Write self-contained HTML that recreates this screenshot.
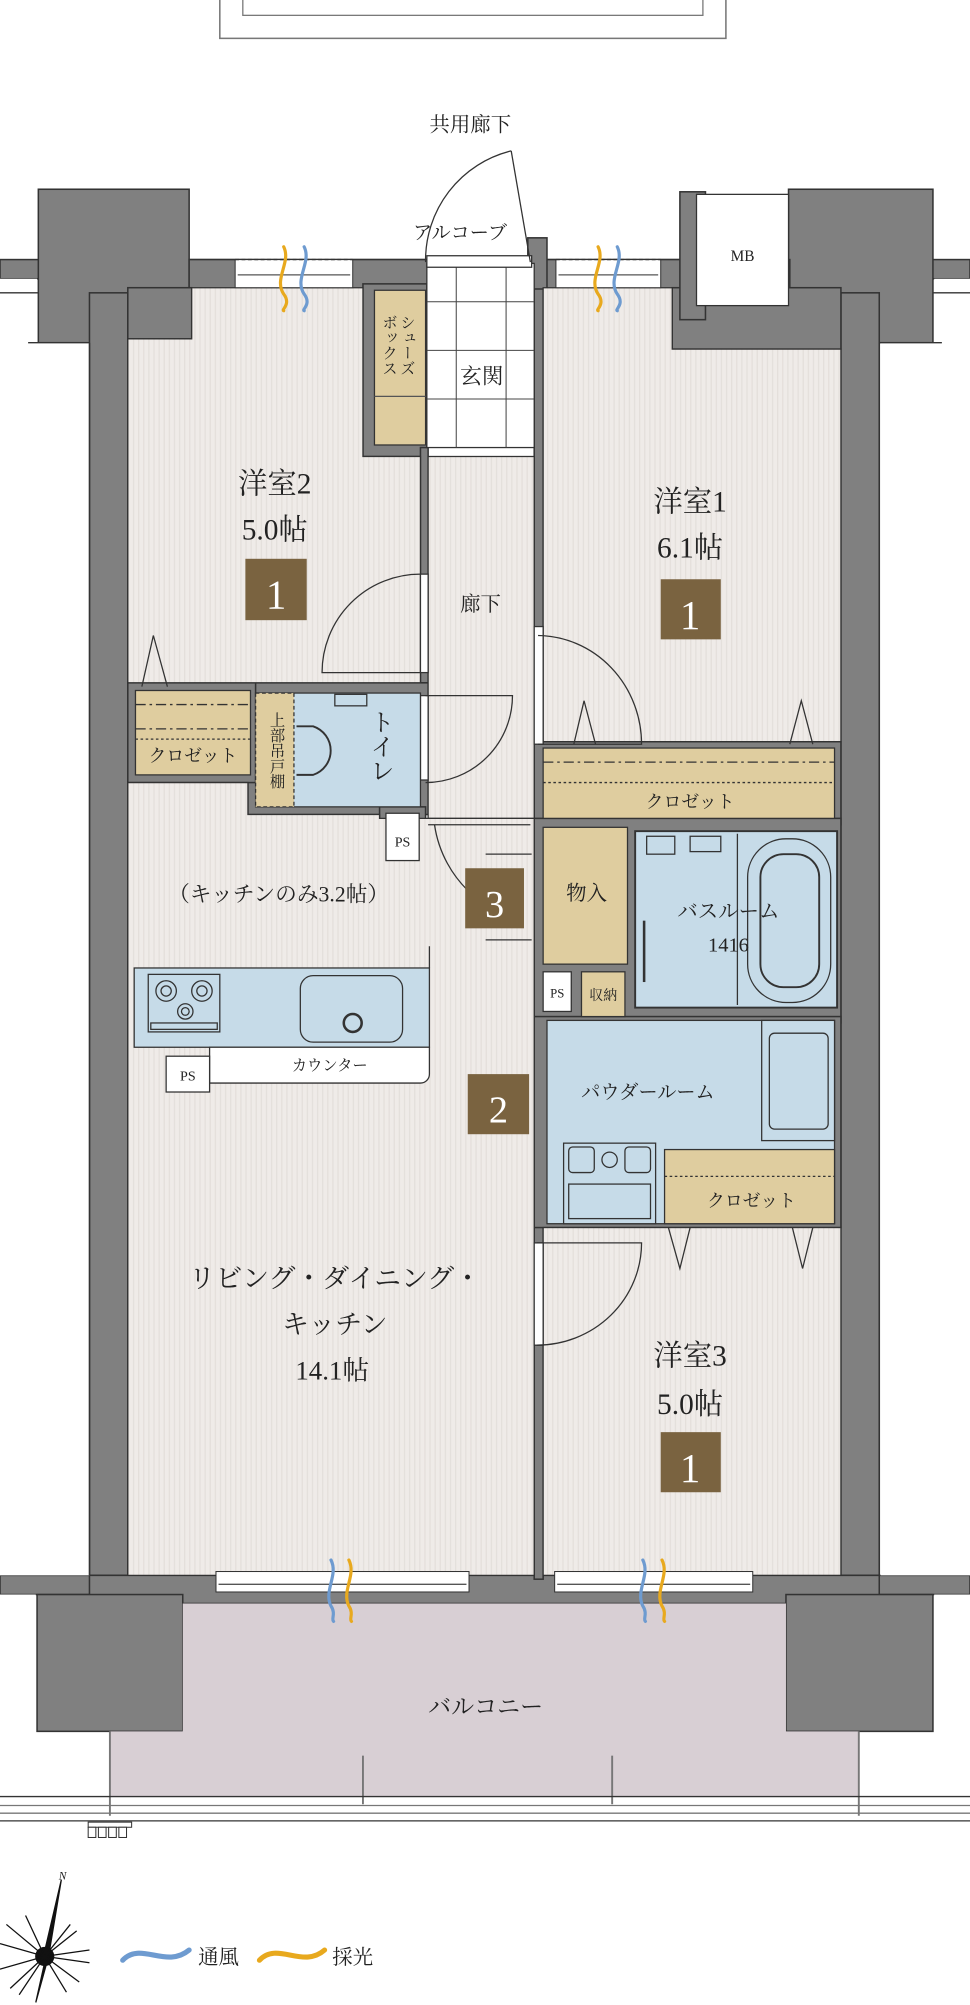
<!DOCTYPE html>
<html><head><meta charset="utf-8">
<style>
html,body{margin:0;padding:0;background:#fff;}
svg{display:block;}
text{font-family:"Liberation Serif","Noto Serif CJK SC","Noto Sans CJK JP",serif;fill:#222;}
</style></head>
<body>
<svg width="970" height="2005" viewBox="0 0 759 1568" preserveAspectRatio="none" xmlns="http://www.w3.org/2000/svg">
<defs>
<pattern id="fl" width="4" height="10" patternUnits="userSpaceOnUse">
<rect width="4" height="10" fill="#efebe8"/><rect width="1" height="10" fill="#e4dfdb"/>
</pattern>
</defs>
<!-- top element -->
<rect x="172" y="-2" width="396" height="32" fill="#fff" stroke="#777" stroke-width="1.2"/>
<rect x="190" y="-2" width="360" height="14" fill="#fff" stroke="#777" stroke-width="1"/>
<text x="368" y="103" font-size="16" text-anchor="middle">共用廊下</text>

<!-- walls -->
<g fill="#808080" stroke="#333" stroke-width="1.2">
<rect x="0" y="203" width="759" height="15"/>
<rect x="30" y="148" width="118" height="120"/>
<rect x="617" y="148" width="113" height="120"/>
<rect x="148" y="203" width="470" height="26"/>
<rect x="70" y="229" width="30" height="1025"/>
<rect x="658" y="229" width="30" height="1025"/>
<rect x="100" y="225" width="50" height="40"/>
<rect x="526" y="225" width="132" height="48"/>
<rect x="532" y="150" width="20" height="100"/>
<rect x="0" y="1232" width="759" height="15"/>
<rect x="70" y="1232" width="618" height="22"/>
<rect x="29" y="1247" width="114" height="107"/>
<rect x="615" y="1247" width="115" height="107"/>
<rect x="284" y="222" width="50" height="135"/>
<rect x="329" y="350" width="6" height="190"/>
<rect x="418" y="205" width="7" height="1030"/>
<rect x="413" y="186" width="15" height="40"/>
<rect x="100" y="534" width="235" height="8"/>
<rect x="194" y="534" width="141" height="103"/>
<rect x="100" y="534" width="100" height="78"/>
<rect x="297" y="631" width="36" height="47"/>
<rect x="418" y="580" width="240" height="65"/>
<rect x="418" y="640" width="240" height="160"/>
<rect x="418" y="795" width="240" height="165"/>
<rect x="100" y="752" width="65" height="75"/>
<rect x="125" y="820" width="45" height="38"/>
</g>
<rect x="0" y="218" width="29" height="50" fill="#fff"/>
<rect x="731" y="218" width="28" height="50" fill="#fff"/>
<rect x="0" y="1247" width="28" height="120" fill="#fff"/>
<rect x="731" y="1247" width="28" height="120" fill="#fff"/>
<rect x="0" y="268" width="70" height="964" fill="#fff"/>
<rect x="689" y="268" width="70" height="964" fill="#fff"/>
<line x1="70" y1="268" x2="70" y2="1232" stroke="#333" stroke-width="1.2"/>
<line x1="688" y1="268" x2="688" y2="1232" stroke="#333" stroke-width="1.2"/>
<line x1="22" y1="268" x2="70" y2="268" stroke="#333"/>
<line x1="688" y1="268" x2="737" y2="268" stroke="#333"/>
<line x1="0" y1="229" x2="30" y2="229" stroke="#333"/>
<line x1="730" y1="229" x2="759" y2="229" stroke="#333"/>

<!-- MB -->
<rect x="545" y="152" width="72" height="87" fill="#fff" stroke="#333"/>
<text x="581" y="204" font-size="12" text-anchor="middle">MB</text>

<!-- floors -->
<g fill="url(#fl)" stroke="#333" stroke-width="1">
<path d="M150 225 H284 V357 H329 V534 H100 V265 H150 Z"/>
<path d="M425 225 H526 V273 H658 V580 H425 Z"/>
<rect x="335" y="357" width="83" height="283"/>
<path d="M100 612 H194 V637 H297 V640 H418 V1232 H100 Z"/>
<rect x="425" y="960" width="233" height="272"/>
</g>

<!-- entrance -->
<rect x="334" y="206" width="84" height="144" fill="#fff" stroke="#333"/>
<g stroke="#444" stroke-width="0.8">
<line x1="357" y1="206" x2="357" y2="350"/><line x1="396" y1="206" x2="396" y2="350"/>
<line x1="334" y1="236" x2="418" y2="236"/><line x1="334" y1="274" x2="418" y2="274"/><line x1="334" y1="312" x2="418" y2="312"/>
</g>
<rect x="334" y="200" width="82" height="9" fill="#fff" stroke="#333"/>
<line x1="415" y1="205" x2="400" y2="118" stroke="#333"/>
<path d="M400 118 A88 88 0 0 0 333 205" fill="none" stroke="#333"/>
<text x="360" y="187" font-size="15" text-anchor="middle">アルコーブ</text>
<text x="377" y="300" font-size="17" text-anchor="middle">玄関</text>

<!-- shoe box -->
<rect x="293" y="227" width="40" height="121" fill="#dfcd9f" stroke="#333"/>
<line x1="293" y1="310" x2="333" y2="310" stroke="#555"/>
<text font-size="12" x="318" y="270" writing-mode="tb" text-anchor="middle">シューズ</text>
<text font-size="12" x="304" y="270" writing-mode="tb" text-anchor="middle">ボックス</text>

<!-- windows top -->
<g fill="#fff" stroke="#333" stroke-width="0.8">
<rect x="184" y="203" width="92" height="22"/>
<rect x="435" y="203" width="82" height="22"/>
</g>
<line x1="184" y1="203" x2="276" y2="203" stroke="#333" stroke-dasharray="3,2"/>
<line x1="435" y1="203" x2="517" y2="203" stroke="#333" stroke-dasharray="3,2"/>
<line x1="186" y1="215" x2="274" y2="215" stroke="#555"/>
<line x1="437" y1="215" x2="515" y2="215" stroke="#555"/>

<!-- room labels -->
<text x="215" y="386" font-size="23" text-anchor="middle">洋室2</text>
<text x="215" y="422" font-size="23" text-anchor="middle">5.0帖</text>
<rect x="192" y="437" width="48" height="48" fill="#7a6340"/>
<text x="216" y="476" font-size="32" fill="#fff" text-anchor="middle" style="fill:#fff">1</text>
<text x="540" y="400" font-size="23" text-anchor="middle">洋室1</text>
<text x="540" y="436" font-size="23" text-anchor="middle">6.1帖</text>
<rect x="517" y="453" width="47" height="47" fill="#7a6340"/>
<text x="540" y="492" font-size="32" text-anchor="middle" style="fill:#fff">1</text>
<text x="376" y="478" font-size="16" text-anchor="middle">廊下</text>

<!-- doors -->
<g fill="none" stroke="#333" stroke-width="1">
<rect x="329" y="449" width="6" height="77" fill="#fff"/>
<path d="M329 449 A77 77 0 0 0 252 526 H329"/>
<rect x="418" y="490" width="7" height="92" fill="#fff"/>
<path d="M421 497 A82 85 0 0 1 502 582 H421"/>
<rect x="329" y="544" width="6" height="66" fill="#fff"/>
<path d="M333 544 H401 A68 68 0 0 1 333 612"/>
<rect x="418" y="972" width="7" height="80" fill="#fff"/>
<path d="M420 972 H502 A82 80 0 0 1 420 1052"/>
<path d="M335 645 H415"/>
<path d="M340 645 A90 90 0 0 0 370 700"/>
<path d="M380 668 H416 M380 735 H416"/>
</g>

<!-- room2 closet -->
<rect x="106" y="540" width="90" height="66" fill="#dfcd9f" stroke="#333"/>
<line x1="106" y1="551" x2="196" y2="551" stroke="#333" stroke-dasharray="8,3,2,3"/>
<line x1="106" y1="570" x2="196" y2="570" stroke="#333" stroke-dasharray="8,3,2,3"/>
<line x1="106" y1="578" x2="196" y2="578" stroke="#333" stroke-dasharray="2,2"/>
<text x="151" y="596" font-size="14" text-anchor="middle">クロゼット</text>
<path d="M111 537 L120 497 L131 537" fill="none" stroke="#333"/>

<!-- toilet -->
<rect x="200" y="542" width="129" height="89" fill="#c6dbe8" stroke="#333"/>
<rect x="200" y="542" width="30" height="89" fill="#dfcd9f" stroke="#333" stroke-dasharray="3,2"/>
<text x="216" y="557" font-size="12" writing-mode="tb" text-anchor="start">上部吊戸棚</text>
<path d="M232 568 H245 A20 20 0 0 1 245 606 H232" fill="none" stroke="#333" stroke-width="1.5"/>
<rect x="262" y="543" width="25" height="9" fill="none" stroke="#333"/>
<text x="297" y="555" font-size="19" writing-mode="tb">トイレ</text>
<rect x="302" y="636" width="26" height="37" fill="#fff" stroke="#333"/>
<text x="315" y="662" font-size="11" text-anchor="middle">PS</text>

<text x="218" y="705" font-size="17" text-anchor="middle">（キッチンのみ3.2帖）</text>

<!-- kitchen -->
<rect x="105" y="757" width="231" height="62" fill="#c6dbe8" stroke="#333"/>
<path d="M164 819 H336 V840 A7 7 0 0 1 329 847 H164 Z" fill="#fff" stroke="#333"/>
<rect x="116" y="762" width="56" height="45" fill="#c6dbe8" stroke="#333"/>
<g fill="none" stroke="#333">
<circle cx="130" cy="775" r="8"/><circle cx="130" cy="775" r="4"/>
<circle cx="158" cy="775" r="8"/><circle cx="158" cy="775" r="4"/>
<circle cx="145" cy="791" r="6"/><circle cx="145" cy="791" r="3"/>
<rect x="118" y="800" width="52" height="5"/>
<rect x="235" y="763" width="80" height="52" rx="10"/>
<circle cx="276" cy="800" r="7" stroke-width="2"/>
</g>
<rect x="130" y="826" width="34" height="28" fill="#fff" stroke="#333"/>
<text x="147" y="845" font-size="11" text-anchor="middle">PS</text>
<text x="258" y="837" font-size="12" text-anchor="middle">カウンター</text>
<line x1="336" y1="757" x2="336" y2="740" stroke="#333"/>

<!-- 3 box -->
<rect x="364" y="679" width="46" height="47" fill="#7a6340"/>
<text x="387" y="717" font-size="30" text-anchor="middle" style="fill:#fff">3</text>

<!-- room1 closet -->
<rect x="425" y="585" width="228" height="55" fill="#dfcd9f" stroke="#333"/>
<line x1="425" y1="596" x2="653" y2="596" stroke="#333" stroke-dasharray="8,3,2,3"/>
<line x1="425" y1="612" x2="653" y2="612" stroke="#333" stroke-dasharray="2,2"/>
<text x="540" y="632" font-size="14" text-anchor="middle">クロゼット</text>
<path d="M449 582 L457 548 L466 582 M618 582 L627 548 L636 582" fill="none" stroke="#333"/>

<!-- 物入, PS, 収納 -->
<rect x="425" y="647" width="66" height="107" fill="#dfcd9f" stroke="#333"/>
<text x="459" y="704" font-size="16" text-anchor="middle">物入</text>
<rect x="425" y="760" width="22" height="31" fill="#fff" stroke="#333"/>
<text x="436" y="780" font-size="10" text-anchor="middle">PS</text>
<rect x="455" y="760" width="34" height="35" fill="#dfcd9f" stroke="#333"/>
<text x="472" y="782" font-size="11" text-anchor="middle">収納</text>

<!-- bath -->
<rect x="497" y="650" width="158" height="138" fill="#c6dbe8" stroke="#333" stroke-width="1.5"/>
<line x1="577" y1="652" x2="577" y2="786" stroke="#333"/>
<rect x="585" y="656" width="65" height="128" rx="30" fill="none" stroke="#333"/>
<rect x="595" y="668" width="46" height="104" rx="18" fill="none" stroke="#333" stroke-width="1.5"/>
<rect x="506" y="654" width="22" height="14" fill="none" stroke="#333"/>
<rect x="540" y="654" width="24" height="12" fill="none" stroke="#333"/>
<line x1="504" y1="720" x2="504" y2="768" stroke="#333" stroke-width="2"/>
<text x="570" y="718" font-size="16" text-anchor="middle">バスルーム</text>
<text x="570" y="744" font-size="16" text-anchor="middle">1416</text>

<!-- powder -->
<rect x="428" y="798" width="225" height="159" fill="#c6dbe8" stroke="#333"/>
<rect x="596" y="798" width="57" height="94" fill="#c6dbe8" stroke="#333"/>
<rect x="602" y="808" width="46" height="75" rx="4" fill="none" stroke="#333"/>
<rect x="441" y="894" width="72" height="63" fill="#c6dbe8" stroke="#333"/>
<rect x="445" y="897" width="20" height="20" rx="3" fill="none" stroke="#333"/>
<circle cx="477" cy="907" r="6" fill="none" stroke="#333"/>
<rect x="489" y="897" width="20" height="20" rx="3" fill="none" stroke="#333"/>
<rect x="445" y="926" width="64" height="27" fill="none" stroke="#333"/>
<text x="507" y="859" font-size="15" text-anchor="middle">パウダールーム</text>
<rect x="520" y="899" width="133" height="58" fill="#dfcd9f" stroke="#333"/>
<line x1="520" y1="920" x2="653" y2="920" stroke="#333" stroke-dasharray="2,2"/>
<text x="588" y="944" font-size="14" text-anchor="middle">クロゼット</text>
<path d="M523 960 L532 992 L540 960 M620 960 L628 992 L636 960" fill="none" stroke="#333"/>
<rect x="366" y="840" width="48" height="47" fill="#7a6340"/>
<text x="390" y="878" font-size="30" text-anchor="middle" style="fill:#fff">2</text>

<!-- room3 & LDK labels -->
<text x="540" y="1068" font-size="23" text-anchor="middle">洋室3</text>
<text x="540" y="1106" font-size="23" text-anchor="middle">5.0帖</text>
<rect x="517" y="1120" width="47" height="47" fill="#7a6340"/>
<text x="540" y="1159" font-size="32" text-anchor="middle" style="fill:#fff">1</text>
<text x="262" y="1007" font-size="21" text-anchor="middle">リビング・ダイニング・</text>
<text x="262" y="1043" font-size="21" text-anchor="middle">キッチン</text>
<text x="260" y="1079" font-size="21" text-anchor="middle">14.1帖</text>

<!-- bottom windows -->
<g fill="#fff" stroke="#333" stroke-width="0.8">
<rect x="169" y="1229" width="198" height="16"/>
<rect x="434" y="1229" width="155" height="16"/>
</g>
<line x1="171" y1="1239" x2="365" y2="1239" stroke="#555"/>
<line x1="436" y1="1239" x2="587" y2="1239" stroke="#555"/>

<!-- balcony -->
<path d="M143 1254 H615 V1354 H672 V1405 H86 V1354 H143 Z" fill="#d8cfd4"/>
<line x1="86" y1="1354" x2="86" y2="1420" stroke="#777" stroke-width="1.5"/>
<line x1="672" y1="1354" x2="672" y2="1420" stroke="#777" stroke-width="1.5"/>
<line x1="284" y1="1373" x2="284" y2="1411" stroke="#777" stroke-width="1.5"/>
<line x1="479" y1="1373" x2="479" y2="1411" stroke="#777" stroke-width="1.5"/>
<text x="380" y="1341" font-size="18" text-anchor="middle">バルコニー</text>
<line x1="0" y1="1405" x2="759" y2="1405" stroke="#333"/>
<line x1="0" y1="1412" x2="759" y2="1412" stroke="#777"/>
<line x1="0" y1="1418" x2="759" y2="1418" stroke="#777"/>
<line x1="0" y1="1424" x2="759" y2="1424" stroke="#333"/>
<g fill="#fff" stroke="#333" stroke-width="0.8">
<rect x="69" y="1425" width="34" height="4"/>
<rect x="69" y="1429" width="6" height="8"/><rect x="77" y="1429" width="6" height="8"/><rect x="85" y="1429" width="6" height="8"/><rect x="93" y="1429" width="6" height="8"/>
</g>

<!-- wind/light waves -->
<g fill="none" stroke-width="2.5" stroke-linecap="round">
<path d="M222 193 C228 205 214 218 222 230 C228 238 220 242 222 243" stroke="#e8a91e"/>
<path d="M238 193 C244 205 230 218 238 230 C244 238 236 242 238 243" stroke="#6e9bd0"/>
<path d="M468 193 C474 205 460 218 468 230 C474 238 466 242 468 243" stroke="#e8a91e"/>
<path d="M483 193 C489 205 475 218 483 230 C489 238 481 242 483 243" stroke="#6e9bd0"/>
<path d="M259 1220 C265 1232 253 1244 259 1256 C263 1262 259 1266 261 1268" stroke="#6e9bd0"/>
<path d="M273 1220 C279 1232 267 1244 273 1256 C277 1262 273 1266 275 1268" stroke="#e8a91e"/>
<path d="M503 1220 C509 1232 497 1244 503 1256 C507 1262 503 1266 505 1268" stroke="#6e9bd0"/>
<path d="M518 1220 C524 1232 512 1244 518 1256 C522 1262 518 1266 520 1268" stroke="#e8a91e"/>
<path d="M96 1533 C110 1518 130 1540 148 1525" stroke="#6e9bd0" stroke-width="4"/>
<path d="M203 1533 C217 1518 237 1540 254 1525" stroke="#e8a91e" stroke-width="4"/>
</g>
<text x="155" y="1536" font-size="16">通風</text>
<text x="260" y="1536" font-size="16">採光</text>

<!-- compass -->
<g stroke="#111" stroke-width="1" fill="#111">
<path d="M48 1470 L38 1530 L34 1530 Z"/>
<path d="M36 1530 L28 1566 L38 1530 Z"/>
<circle cx="35" cy="1530" r="7"/>
<path d="M0 1520 L35 1530 L0 1540 M70 1525 L35 1530 L70 1535 M20 1498 L35 1530 L55 1505 M15 1560 L35 1530 L52 1558 M5 1505 L35 1530 L62 1550 M60 1510 L35 1530 L8 1555" fill="none"/>
</g>
<text x="49" y="1470" font-size="9" font-style="italic" text-anchor="middle">N</text>
</svg>
</body></html>
